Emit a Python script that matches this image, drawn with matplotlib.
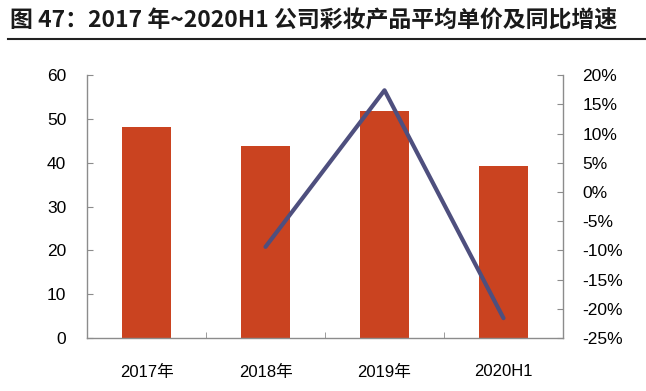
import matplotlib
matplotlib.use("Agg")
import matplotlib.pyplot as plt
from matplotlib.ticker import FuncFormatter
from matplotlib.lines import Line2D

# 数据
categories = ["2017年", "2018年", "2019年", "2020H1"]
avg_price = [48.2, 43.9, 51.7, 39.3]
yoy_cats = ["2018年", "2019年", "2020H1"]
yoy_growth = [-9.4, 17.4, -21.6]

BAR_COLOR = "#CA4320"
LINE_COLOR = "#4E4F7E"
AXIS_COLOR = "#8C8C8C"
FONTS = ["Liberation Sans", "Noto Sans CJK SC"]

plt.rcParams["font.family"] = FONTS

fig = plt.figure(figsize=(6.46, 3.91), dpi=100)
ax = fig.add_axes([0.1347, 0.1355, 0.7368, 0.6725])

x = list(range(len(categories)))
ax.bar(x, avg_price, width=0.41, color=BAR_COLOR, zorder=2)
ax.set_xlim(-0.5, len(categories) - 0.5)
ax.set_ylim(0, 60)
ax.set_yticks(range(0, 61, 10))

# 类别分隔刻度
ax.set_xticks([i + 0.5 for i in range(len(categories) - 1)], minor=True)
ax.set_xticks(x)
ax.set_xticklabels(categories)
ax.tick_params(axis="x", which="major", length=0, pad=19, labelsize=12)
ax.tick_params(axis="x", which="minor", length=4, direction="in", color=AXIS_COLOR)
ax.tick_params(axis="y", length=4, direction="in", color=AXIS_COLOR, pad=15, labelsize=12.5)

ax2 = ax.twinx()
ax2.plot([categories.index(c) for c in yoy_cats], yoy_growth, color=LINE_COLOR,
         linewidth=3, solid_capstyle="round", zorder=3)
ax2.set_ylim(-25, 20)
ax2.set_yticks(range(-25, 21, 5))
ax2.yaxis.set_major_formatter(FuncFormatter(lambda v, p: f"{int(v)}%"))
ax2.tick_params(axis="y", length=4, direction="in", color=AXIS_COLOR, pad=14, labelsize=12.5)

for a in (ax, ax2):
    a.spines["top"].set_visible(False)
    for s in ("left", "right", "bottom"):
        a.spines[s].set_color(AXIS_COLOR)
        a.spines[s].set_linewidth(1)
ax.spines["right"].set_visible(False)
ax2.spines["left"].set_visible(False)
ax2.spines["bottom"].set_visible(False)

# 标题
fig.text(0.015, 0.945, "图 47：2017 年~2020H1 公司彩妆产品平均单价及同比增速",
         fontsize=16.5, fontweight="bold", family="Noto Sans CJK SC",
         ha="left", va="center", color="#1A1A1A")
fig.add_artist(Line2D([0.012, 1.0], [0.9, 0.9], color="#222222", linewidth=1.5,
                      transform=fig.transFigure))

fig.savefig("out.png", dpi=100)
